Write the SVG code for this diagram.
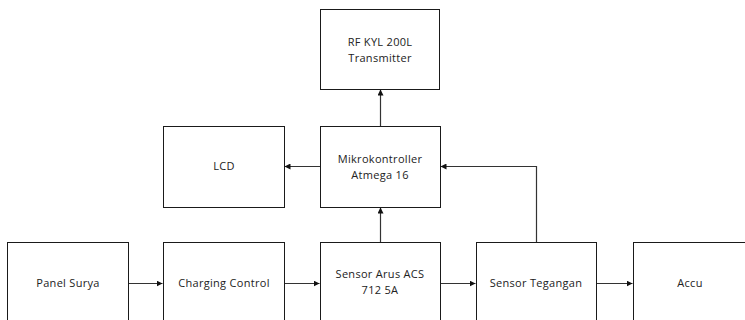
<svg xmlns="http://www.w3.org/2000/svg" width="745" height="320" viewBox="0 0 745 320">
<style>
.box{fill:#fff;stroke:#1a1a1a;stroke-width:1}
.t{font-family:"Open Sans","Liberation Sans",sans-serif;font-size:11px;fill:#222;text-anchor:middle;letter-spacing:0.3px}
.c{fill:none;stroke:#333;stroke-width:1.2}
</style>
<defs>
<marker id="ah" markerWidth="6" markerHeight="6" refX="6" refY="3" orient="auto" markerUnits="userSpaceOnUse">
<path d="M0,0 L6,3 L0,6 Z" fill="#111"/>
</marker>
</defs>
<rect width="745" height="320" fill="#fff"/>
<g id="connectors">
<path class="c" d="M128.5,283.5 H162.5" marker-end="url(#ah)"/>
<path class="c" d="M284.5,283.5 H319.5" marker-end="url(#ah)"/>
<path class="c" d="M440.5,283.5 H475.5" marker-end="url(#ah)"/>
<path class="c" d="M596.5,283.5 H632.5" marker-end="url(#ah)"/>
<path class="c" d="M380.5,242 V207.5" marker-end="url(#ah)"/>
<path class="c" d="M380.5,126 V89.5" marker-end="url(#ah)"/>
<path class="c" d="M320,166.5 H284.5" marker-end="url(#ah)"/>
<path class="c" d="M536.5,242 V166.5 H440.5" marker-end="url(#ah)"/>
</g>
<g id="rf">
<rect class="box" x="320.5" y="9.5" width="119" height="80"/>
<text class="t" x="380" y="46">RF KYL 200L</text>
<text class="t" x="380" y="62">Transmitter</text>
</g>
<g id="mikro">
<rect class="box" x="320.5" y="126.5" width="120" height="81"/>
<text class="t" x="380" y="163">Mikrokontroller</text>
<text class="t" x="380" y="179">Atmega 16</text>
</g>
<g id="lcd">
<rect class="box" x="163.5" y="126.5" width="121" height="81"/>
<text class="t" x="224" y="170">LCD</text>
</g>
<g id="panel">
<rect class="box" x="7.5" y="242.5" width="121" height="90"/>
<text class="t" x="68" y="287">Panel Surya</text>
</g>
<g id="charging">
<rect class="box" x="163.5" y="242.5" width="121" height="90"/>
<text class="t" x="224" y="287">Charging Control</text>
</g>
<g id="arus">
<rect class="box" x="320.5" y="242.5" width="120" height="90"/>
<text class="t" x="380" y="278">Sensor Arus ACS</text>
<text class="t" x="380" y="294">712 5A</text>
</g>
<g id="tegangan">
<rect class="box" x="476.5" y="242.5" width="120" height="90"/>
<text class="t" x="536" y="287">Sensor Tegangan</text>
</g>
<g id="accu">
<rect class="box" x="633.5" y="242.5" width="120" height="90"/>
<text class="t" x="690" y="287">Accu</text>
</g>
</svg>
